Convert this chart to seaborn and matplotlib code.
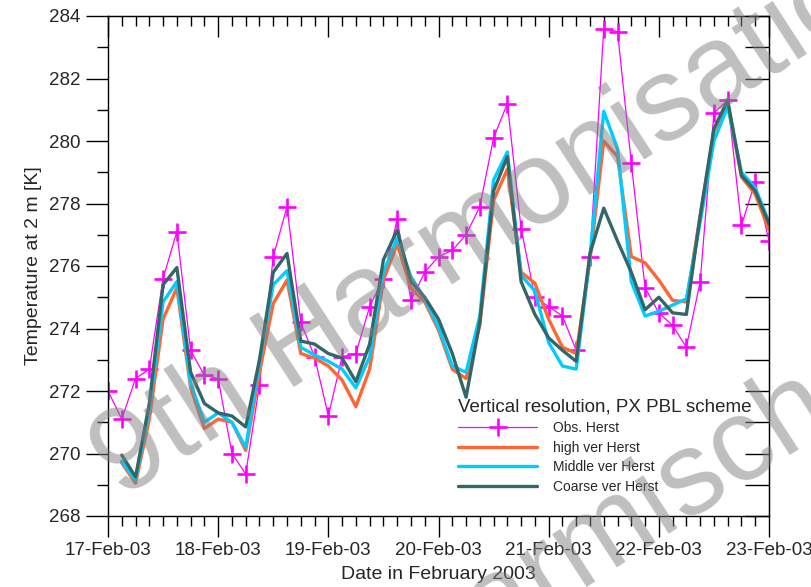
import numpy as np
import pandas as pd
import matplotlib
matplotlib.use('Agg')
import matplotlib.pyplot as plt
import matplotlib.dates as mdates
from matplotlib.ticker import MultipleLocator, NullFormatter
import seaborn as sns

# 3-hourly values, 17-Feb-03 00:00 .. 23-Feb-03 00:00
obs = [272.0, 271.1, 272.4, 272.7, 275.6, 277.1, 273.3, 272.5, 272.4, 270.0,
       269.35, 272.2, 276.3, 277.9, 274.2, 273.1, 271.2, 273.1, 273.2, 274.7,
       275.6, 277.5, 274.9, 275.8, 276.3, 276.5, 277.0, 277.9, 280.1, 281.2,
       277.2, 275.0, 274.7, 274.4, 273.3, 276.3, 283.6, 283.5, 279.3, 275.3,
       274.5, 274.1, 273.4, 275.5, 280.9, 281.3, 277.3, 278.7, 276.8]

# model runs start at 17-Feb-03 03:00
high_ver = [269.7, 269.05, 271.1, 274.3, 275.3, 272.1, 270.8, 271.1, 271.0, 270.1,
            272.6, 274.8, 275.55, 273.2, 273.05, 272.8, 272.35, 271.5, 272.7, 275.55,
            276.7, 275.3, 274.85, 273.95, 272.7, 272.4, 274.1, 278.1, 279.1, 275.8,
            275.45, 274.3, 273.4, 273.2, 276.2, 280.0, 279.5, 276.3, 276.1, 275.55,
            274.9, 274.85, 277.6, 280.3, 281.2, 278.85, 278.3, 277.15]
middle_ver = [269.75, 269.15, 271.4, 274.85, 275.5, 272.25, 271.0, 271.3, 271.0, 270.2,
              272.9, 275.4, 275.85, 273.4, 273.15, 272.95, 272.7, 272.1, 273.1, 275.8,
              276.9, 275.65, 274.95, 274.05, 272.8, 272.6, 274.4, 278.75, 279.65, 275.7,
              275.2, 273.55, 272.8, 272.7, 276.3, 280.95, 279.75, 275.5, 274.4, 274.55,
              274.75, 274.95, 277.4, 280.0, 281.1, 279.0, 278.5, 277.4]
coarse_ver = [269.95, 269.25, 271.6, 275.4, 275.95, 272.6, 271.6, 271.3, 271.2, 270.85,
              273.0, 275.8, 276.4, 273.6, 273.5, 273.2, 273.05, 272.3, 273.5, 276.2,
              277.15, 275.5, 275.0, 274.3, 273.2, 271.8, 274.2, 278.4, 279.5, 275.5,
              274.45, 273.7, 273.3, 272.95, 276.4, 277.85, 276.8, 275.8, 274.6, 275.0,
              274.5, 274.45, 277.6, 280.4, 281.3, 278.9, 278.4, 277.35]

labels = ['Obs. Herst', 'high ver Herst', 'Middle ver Herst', 'Coarse ver Herst']
colors = ['#ff00ff', '#ff6633', '#00ccff', '#336666']

times = pd.date_range('2003-02-17', periods=len(obs), freq='3h')
model_times = times[1:]

sns.set_style('ticks')
plt.rcParams['font.family'] = ['Liberation Sans', 'DejaVu Sans']

fig = plt.figure(figsize=(8.11, 5.87), dpi=100)
ax = fig.add_axes([108 / 811, 1 - 516 / 587, 661 / 811, 500 / 587])

sns.lineplot(x=times, y=obs, ax=ax, color=colors[0], lw=0.9, marker='+',
             markersize=13, markeredgewidth=1.9, markeredgecolor=colors[0],
             label=labels[0])
sns.lineplot(x=model_times, y=high_ver, ax=ax, color=colors[1], lw=2.4, label=labels[1])
sns.lineplot(x=model_times, y=middle_ver, ax=ax, color=colors[2], lw=2.4, label=labels[2])
sns.lineplot(x=model_times, y=coarse_ver, ax=ax, color=colors[3], lw=2.4, label=labels[3])

ax.set_xlim(times[0], times[-1])
ax.set_ylim(268, 284)

ax.xaxis.set_major_locator(mdates.DayLocator())
ax.xaxis.set_minor_locator(mdates.HourLocator(byhour=range(0, 24, 3)))
ax.xaxis.set_major_formatter(mdates.DateFormatter('%d-%b-%y'))
ax.yaxis.set_major_locator(MultipleLocator(2))
ax.yaxis.set_minor_locator(MultipleLocator(1))

ax.tick_params(which='major', direction='out', length=15, width=1, color='black',
               labelsize=13.5, pad=4)
ax.tick_params(which='minor', direction='out', length=7, width=1, color='black')
ax.tick_params(axis='y', which='major', length=16, pad=4)
ax.tick_params(axis='y', which='minor', length=8)

for s in ax.spines.values():
    s.set_color('black')
    s.set_linewidth(1)

# inward ticks on top and right side
top = ax.secondary_xaxis('top')
top.xaxis.set_major_locator(mdates.DayLocator())
top.xaxis.set_minor_locator(mdates.HourLocator(byhour=range(0, 24, 3)))
top.xaxis.set_major_formatter(NullFormatter())
top.tick_params(which='major', direction='in', length=15, width=1, color='black')
top.tick_params(which='minor', direction='in', length=7, width=1, color='black')

right = ax.secondary_yaxis('right')
right.yaxis.set_major_locator(MultipleLocator(1))
right.yaxis.set_major_formatter(NullFormatter())
right.tick_params(which='major', direction='in', length=17, width=1, color='black')

ax.set_xlabel('Date in February 2003', fontsize=14, labelpad=4.5)
ax.set_ylabel('Temperature at 2 m [K]', fontsize=14, labelpad=5)

leg = ax.legend(loc='upper left', bbox_to_anchor=(0.53, 0.235), frameon=False,
                title='Vertical resolution, PX PBL scheme', title_fontsize=13.5,
                fontsize=10, handlelength=5.7, handletextpad=1.1, labelspacing=0.4,
                borderpad=0, borderaxespad=0, numpoints=1, alignment='left')

# watermark
fig.text(121 / 811, 1 - 499 / 587, '9th Harmonisation', fontsize=85, color='gray',
         alpha=0.5, rotation=33, rotation_mode='anchor', ha='left', va='baseline',
         zorder=10)
fig.text(415 / 811, 1 - 695 / 587, 'Garmisch', fontsize=85, color='gray',
         alpha=0.5, rotation=33, rotation_mode='anchor', ha='left', va='baseline',
         zorder=10)

plt.savefig('out.png', dpi=100)
